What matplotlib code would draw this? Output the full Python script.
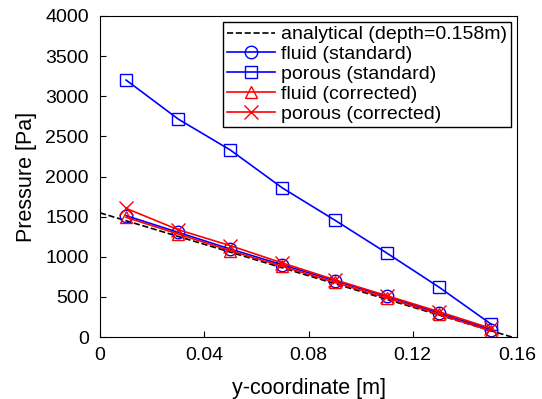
import matplotlib
matplotlib.use('Agg')
import matplotlib.pyplot as plt

plt.rcParams['font.family'] = ['Liberation Sans', 'DejaVu Sans']

# ==========================================
# data
# ==========================================
y_pts = [0.01, 0.03, 0.05, 0.07, 0.09, 0.11, 0.13, 0.15]
y_ana = [0.0, 0.158]
p_ana = [1547, 0]
p_fluid_std = [1512, 1304, 1096, 900, 702, 506, 299, 91]
p_porous_std = [3202, 2716, 2330, 1857, 1458, 1047, 623, 162]
p_fluid_cor = [1491, 1283, 1075, 880, 681, 486, 283, 75]
p_porous_cor = [1603, 1337, 1138, 922, 714, 515, 316, 108]

# ==========================================
# plot
# ==========================================
fig = plt.figure(figsize=(5.42, 3.99), dpi=100)
ax = fig.add_axes([100 / 542, 1 - 337 / 399, 417 / 542, 321 / 399])

ax.plot(y_ana, p_ana, 'k--', lw=1.2, label='analytical (depth=0.158m)')
ax.plot(y_pts, p_fluid_std, color='blue', lw=1.2, marker='o', ms=9, mfc='none',
        label='fluid (standard)')
ax.plot(y_pts, p_porous_std, color='blue', lw=1.2, marker='s', ms=9, mfc='none',
        label='porous (standard)')
ax.plot(y_pts, p_fluid_cor, color='red', lw=1.2, marker='^', ms=9, mfc='none',
        label='fluid (corrected)')
ax.plot(y_pts, p_porous_cor, color='red', lw=1.2, marker='x', ms=10,
        label='porous (corrected)')

ax.set_xlim(0, 0.16)
ax.set_ylim(0, 4000)
ax.set_xticks([0, 0.04, 0.08, 0.12, 0.16])
ax.set_xticklabels(['0', '0.04', '0.08', '0.12', '0.16'])
ax.set_yticks(range(0, 4001, 500))
ax.tick_params(direction='in', labelsize=14, length=4, top=False, right=False)
ax.tick_params(axis='y', pad=8)
ax.tick_params(axis='x', pad=7)
ax.set_xlabel('y-coordinate [m]', fontsize=15.5, labelpad=10)
ax.set_ylabel('Pressure [Pa]', fontsize=15.5, labelpad=6)

leg = ax.legend(loc='upper right', fontsize=14, fancybox=False, framealpha=1,
                edgecolor='black', borderaxespad=0.3, handlelength=2.5,
                borderpad=0.2, labelspacing=0.12, handletextpad=0.3)
leg.get_frame().set_linewidth(1.0)

fig.savefig('out.png', dpi=100)
